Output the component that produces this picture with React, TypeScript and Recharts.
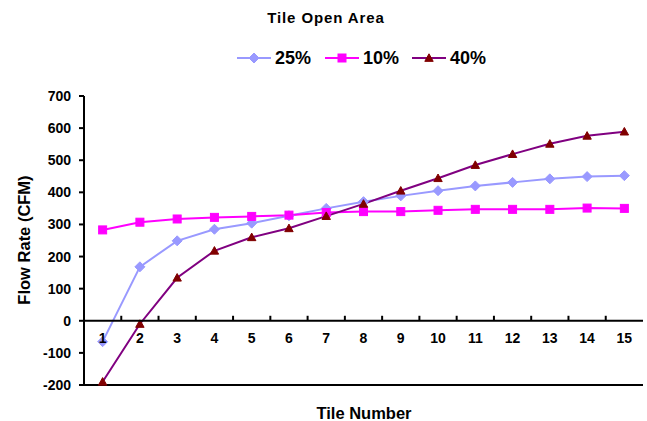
import React from 'react';
import { LineChart, Line, XAxis, YAxis } from 'recharts';

// Tile positions along the row
const tiles = ['1', '2', '3', '4', '5', '6', '7', '8', '9', '10', '11', '12', '13', '14', '15'];
// Flow rate (CFM) per tile for each perforated tile open area
const open25 = [-65, 168, 249, 285, 304, 327, 350, 371, 389, 405, 420, 431, 442, 449, 452];
const open10 = [283, 307, 317, 322, 325, 329, 337, 340, 340, 344, 347, 347, 347, 351, 350];
const open40 = [-190, -10, 134, 218, 260, 288, 326, 364, 405, 444, 485, 519, 551, 576, 589];
const yTicks = [-200, -100, 0, 100, 200, 300, 400, 500, 600, 700];

const data = tiles.map((tile, i) => ({ tile, p25: open25[i], p10: open10[i], p40: open40[i] }));

const W = 647;
const H = 421;
const MARGIN = { top: 96, right: 4, bottom: 0, left: 0 };
const X_AXIS_H = 36;
const Y_AXIS_W = 84;
const Y_MIN = -200;
const Y_MAX = 700;
const PLOT_H = H - MARGIN.top - MARGIN.bottom - X_AXIS_H;
const PLOT_W = W - MARGIN.left - Y_AXIS_W - MARGIN.right;
const BAND = PLOT_W / tiles.length;
// distance from the bottom of the plot up to the zero line
const ZERO_LIFT = (PLOT_H * (0 - Y_MIN)) / (Y_MAX - Y_MIN);

const FONT = '"Liberation Sans", Arial, sans-serif';
const TICK_FONT = 14;
const C25 = '#9999FF';
const C10 = '#FF00FF';
const C40_LINE = '#800080';
const C40_MARK = '#800000';
const FRAME = { stroke: '#000', strokeWidth: 2 };

const Diamond = ({ cx, cy, size = 5 }: any) => (
  <polygon
    points={`${cx},${cy - size} ${cx + size},${cy} ${cx},${cy + size} ${cx - size},${cy}`}
    fill={C25}
    stroke={C25}
  />
);

const Square = ({ cx, cy, size = 4 }: any) => (
  <rect x={cx - size} y={cy - size} width={size * 2} height={size * 2} fill={C10} stroke={C10} />
);

const Triangle = ({ cx, cy, size = 4.2 }: any) => (
  <polygon
    points={`${cx},${cy - size} ${cx + size},${cy + size * 0.8} ${cx - size},${cy + size * 0.8}`}
    fill={C40_MARK}
    stroke={C40_MARK}
  />
);

// Category labels, boundary ticks and the zero line sit at y = 0 rather than at the plot bottom
const ZeroLineTick = (props: any) => {
  const { x, y, payload, index } = props;
  const zeroY = y - ZERO_LIFT;
  const last = index === tiles.length - 1;
  return (
    <g>
      {index === 0 && (
        <line x1={x - BAND / 2} x2={x - BAND / 2 + PLOT_W} y1={zeroY} y2={zeroY} stroke="#000" strokeWidth={2} />
      )}
      {!last && (
        <line x1={x + BAND / 2} x2={x + BAND / 2} y1={zeroY - 5} y2={zeroY} stroke="#000" strokeWidth={2} />
      )}
      <text
        x={x}
        y={zeroY + 17}
        textAnchor="middle"
        dominantBaseline="central"
        fontFamily={FONT}
        fontWeight="bold"
        fontSize={TICK_FONT}
        fill="#000"
      >
        {payload.value}
      </text>
    </g>
  );
};

const LegendItem = ({ left, color, label, Marker }: any) => (
  <div style={{ position: 'absolute', left, top: 48, height: 20, display: 'flex', alignItems: 'center' }}>
    <svg width={34} height={14}>
      <line x1={0} x2={34} y1={7} y2={7} stroke={color} strokeWidth={2} />
      <Marker cx={17} cy={7} />
    </svg>
    <span style={{ marginLeft: 4, fontSize: 18, fontWeight: 'bold', fontFamily: FONT, color: '#000' }}>{label}</span>
  </div>
);

export default function App() {
  return (
    <div style={{ position: 'absolute', left: 0, top: 0, width: W, height: H, background: '#fff', fontFamily: FONT }}>
      <LineChart width={W} height={H} data={data} margin={MARGIN}>
        <XAxis
          dataKey="tile"
          height={X_AXIS_H}
          padding={{ left: BAND / 2, right: BAND / 2 }}
          tickSize={0}
          tickMargin={0}
          axisLine={FRAME}
          tickLine={false}
          interval={0}
          tick={<ZeroLineTick />}
        />
        <XAxis xAxisId="top" dataKey="tile" orientation="top" height={0} axisLine={FRAME} tick={false} tickLine={false} />
        <YAxis
          width={Y_AXIS_W}
          domain={[Y_MIN, Y_MAX]}
          ticks={yTicks}
          interval={0}
          axisLine={FRAME}
          tickLine={{ stroke: '#000', strokeWidth: 2 }}
          tickSize={5}
          tickMargin={8}
          tick={{ fontFamily: FONT, fontWeight: 'bold', fontSize: TICK_FONT, fill: '#000' }}
        />
        <YAxis
          yAxisId="right"
          orientation="right"
          width={0}
          domain={[Y_MIN, Y_MAX]}
          axisLine={FRAME}
          tick={false}
          tickLine={false}
        />
        <Line
          dataKey="p25"
          stroke={C25}
          strokeWidth={2}
          isAnimationActive={false}
          dot={(p: any) => <Diamond key={`d-${p.index}`} cx={p.cx} cy={p.cy} />}
          activeDot={false}
        />
        <Line
          dataKey="p10"
          stroke={C10}
          strokeWidth={2}
          isAnimationActive={false}
          dot={(p: any) => <Square key={`s-${p.index}`} cx={p.cx} cy={p.cy} />}
          activeDot={false}
        />
        <Line
          dataKey="p40"
          stroke={C40_LINE}
          strokeWidth={2}
          isAnimationActive={false}
          dot={(p: any) => <Triangle key={`t-${p.index}`} cx={p.cx} cy={p.cy} />}
          activeDot={false}
        />
      </LineChart>

      <div
        style={{
          position: 'absolute',
          left: 226,
          width: 200,
          top: 9,
          textAlign: 'center',
          fontSize: 15,
          fontWeight: 'bold',
          letterSpacing: 0.9,
        }}
      >
        Tile Open Area
      </div>
      <LegendItem left={237} color={C25} label="25%" Marker={Diamond} />
      <LegendItem left={325} color={C10} label="10%" Marker={Square} />
      <LegendItem left={412} color={C40_LINE} label="40%" Marker={Triangle} />

      <div
        style={{
          position: 'absolute',
          left: 24 - 100,
          top: 240 - 10,
          width: 200,
          height: 20,
          lineHeight: '20px',
          textAlign: 'center',
          fontSize: 16.5,
          fontWeight: 'bold',
          transform: 'rotate(-90deg)',
        }}
      >
        Flow Rate (CFM)
      </div>
      <div
        style={{
          position: 'absolute',
          left: 364 - 100,
          top: 413 - 10,
          width: 200,
          height: 20,
          lineHeight: '20px',
          textAlign: 'center',
          fontSize: 16.5,
          fontWeight: 'bold',
        }}
      >
        Tile Number
      </div>
    </div>
  );
}
